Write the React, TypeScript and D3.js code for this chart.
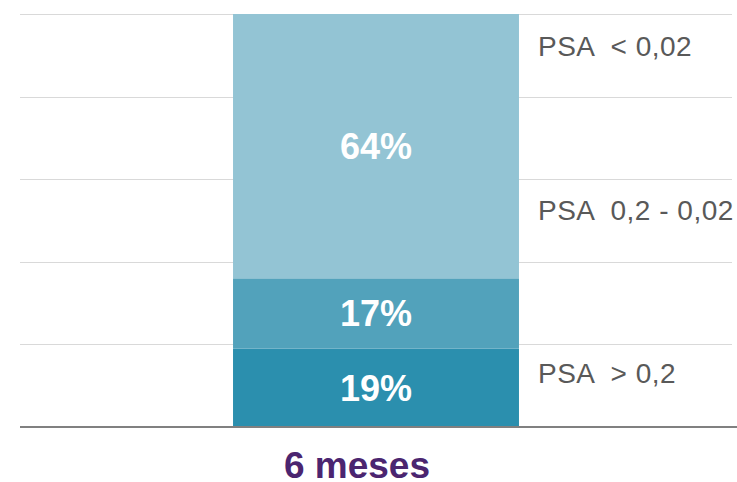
import * as d3 from 'd3';

const categories = ['6 meses'];
const segmentNames = ['PSA  > 0,2', 'PSA  0,2 - 0,02', 'PSA  < 0,02'];
const segmentValues = [19, 17, 64];
const segmentColors = ['#2b8fae', '#52a2bb', '#93c4d4'];
const yTicks = [0, 20, 40, 60, 80, 100];
// legend labels sit beside the bar at these value levels
const legendLevels = [13, 52.5, 92.3];

const W = 737;
const H = 482;
const margin = { top: 14, right: 5, bottom: 55, left: 20 };

export default function App() {
  const x = d3.scaleBand<string>()
    .domain(categories)
    .range([margin.left, W - margin.right])
    .paddingInner(0)
    .paddingOuter(0.745);
  const y = d3.scaleLinear().domain([0, 100]).range([H - margin.bottom, margin.top]);

  const stacked = segmentValues.map((v, i) => {
    const y0 = d3.sum(segmentValues.slice(0, i));
    return { name: segmentNames[i], value: v, y0, y1: y0 + v, color: segmentColors[i] };
  });

  const bx = x(categories[0]) ?? 0;
  const bw = x.bandwidth();
  const font = 'Liberation Sans, Arial, sans-serif';

  return (
    <svg width={W} height={H} style={{ position: 'absolute', left: 0, top: 0, background: '#fff' }} fontFamily={font}>
      {yTicks.slice(1).map((t) => (
        <line key={t} x1={margin.left} x2={W - margin.right} y1={Math.round(y(t)) + 0.5} y2={Math.round(y(t)) + 0.5}
          stroke="#d9d9d9" strokeWidth={1} />
      ))}
      {stacked.map((s) => (
        <rect key={s.name} x={bx} width={bw} y={y(s.y1)} height={y(s.y0) - y(s.y1)} fill={s.color} />
      ))}
      {stacked.map((s) => (
        <text key={'l' + s.name} x={bx + bw / 2} y={(y(s.y0) + y(s.y1)) / 2} dy="0.36em" textAnchor="middle"
          fill="#fff" fontWeight="bold" fontSize={36}>{s.value}%</text>
      ))}
      <line x1={margin.left} x2={W} y1={y(0)} y2={y(0)} stroke="#808080" strokeWidth={2} />
      {segmentNames.map((n, i) => (
        <text key={'n' + n} x={bx + bw + 19} y={y(legendLevels[i])} dy="0.36em" fill="#595959" fontSize={28}
          letterSpacing={0.5} style={{ whiteSpace: 'pre' }}>{n}</text>
      ))}
      <text x={bx + bw / 2} y={y(0) + 38} dx={-19} dy="0.36em" textAnchor="middle" fill="#4b2570" fontWeight="bold" fontSize={37}>
        {categories[0]}
      </text>
    </svg>
  );
}
